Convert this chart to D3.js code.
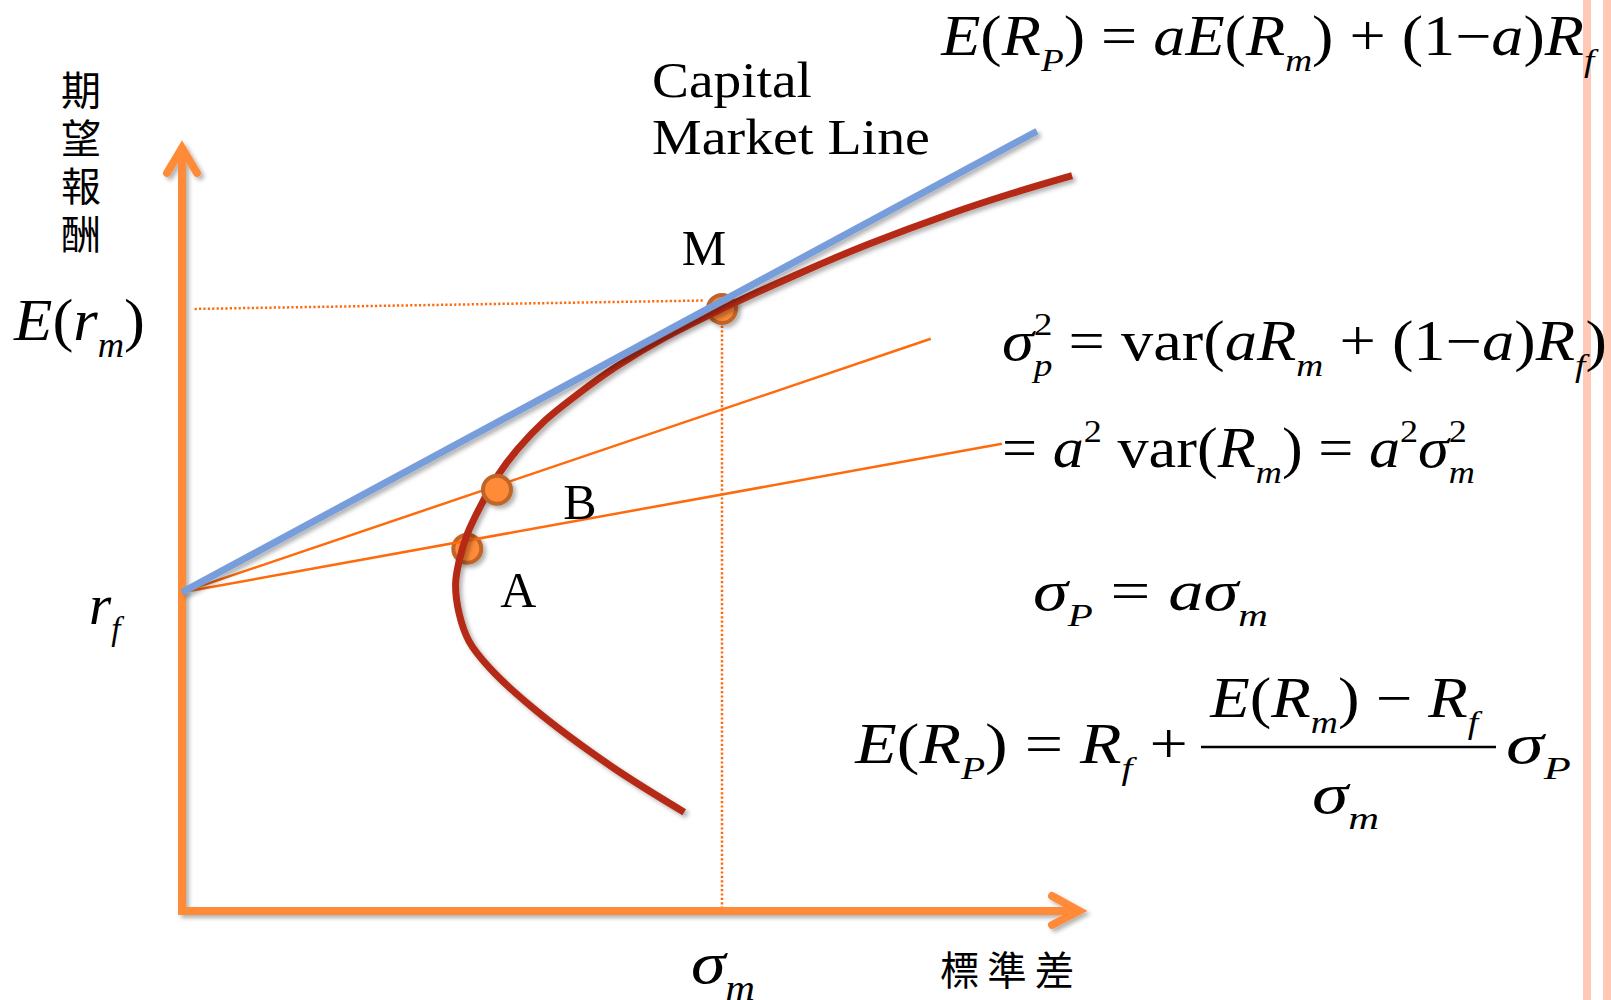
<!DOCTYPE html>
<html>
<head>
<meta charset="utf-8">
<script src="https://cdn.jsdelivr.net/npm/d3@7"></script>
<style>
  body { margin: 0; background: #fff; }
  svg { display: block; }
</style>
</head>
<body>
<div id="chart"></div>
<script>
// ---- data (sigma = standard deviation, ret = expected return) ----
const riskFree = 4.16
const marketSigma = 6.0
const marketReturn = 7.86

// efficient frontier, traced from bottom end to top end
const frontierSigma  = [5.58, 4.78, 3.93, 3.42, 3.19, 3.08, 3.04, 3.08, 3.17, 3.31, 3.50, 3.73, 4.03, 4.40, 4.83, 5.37, 6.00, 6.87, 7.64, 8.53, 9.20, 9.89]
const frontierReturn = [1.29, 1.88, 2.62, 3.17, 3.52, 3.88, 4.27, 4.57, 4.92, 5.27, 5.67, 6.03, 6.40, 6.75, 7.11, 7.49, 7.86, 8.33, 8.71, 9.10, 9.36, 9.60]

// capital market line end
const cmlEndSigma = 9.50
const cmlEndReturn = 10.18

// portfolios A, B and the lines from r_f through them
const portfolioNames = ["A", "B"]
const portfolioSigma = [3.17, 3.50]
const portfolioReturn = [4.73, 5.50]
const calEndSigma = [9.11, 8.32]
const calEndReturn = [6.10, 7.47]

// dotted guide from E(r_m) to M
const guideSigma = [0.14, 5.80]
const guideReturn = [7.86, 7.97]
const guideBottomReturn = [7.64, 0.05]

// texts
const yAxisTitle = "期望報酬"
const xAxisTitle = "標準差"
const marketLabel = "M"
const cmlLabel = ["Capital", "Market Line"]

// formula pieces: i = italic, r = roman, b = subscript, p = superscript, q = subscript under superscript
const labelErm = [["E", "i"], ["(", "r"], ["r", "i"], ["m", "b"], [")", "r"]]
const labelRf = [["r", "i"], ["f", "b"]]
const labelSigmaM = [["σ", "i"], ["m", "b"]]
const formula1 = [["E", "i"], ["(", "r"], ["R", "i"], ["P", "b"], [")", "r"], [" = ", "r"], ["aE", "i"], ["(", "r"], ["R", "i"], ["m", "b"], [")", "r"], [" + ", "r"], ["(1", "r"], ["−", "r"], ["a", "i"], [")", "r"], ["R", "i"], ["f", "b"]]
const formula2 = [["σ", "i"], ["2", "p"], ["p", "q"], [" = ", "r"], ["var(", "r"], ["aR", "i"], ["m", "b"], [" + ", "r"], ["(1", "r"], ["−", "r"], ["a", "i"], [")", "r"], ["R", "i"], ["f", "b"], [")", "r"]]
const formula3 = [["= ", "r"], ["a", "i"], ["2", "p"], [" var(", "r"], ["R", "i"], ["m", "b"], [")", "r"], [" = ", "r"], ["a", "i"], ["2", "p"], ["σ", "i"], ["2", "p"], ["m", "q"]]
const formula4 = [["σ", "i"], ["P", "b"], [" = ", "r"], ["aσ", "i"], ["m", "b"]]
const formula5Left = [["E", "i"], ["(", "r"], ["R", "i"], ["P", "b"], [")", "r"], [" = ", "r"], ["R", "i"], ["f", "b"], [" +", "r"]]
const formula5Num = [["E", "i"], ["(", "r"], ["R", "i"], ["m", "b"], [")", "r"], [" − ", "r"], ["R", "i"], ["f", "b"]]
const formula5Den = [["σ", "i"], ["m", "b"]]
const formula5Right = [["σ", "i"], ["P", "b"]]

// ---- drawing ----
const W = 1611, H = 1000
const serif = "'Liberation Serif', 'Times New Roman', serif"
const cjk = "'Noto Sans CJK TC', 'Noto Sans CJK SC', sans-serif"

const svg = d3.select("#chart").append("svg")
    .attr("width", W)
    .attr("height", H)

svg.append("rect").attr("width", W).attr("height", H).attr("fill", "#fff")

const shadow = svg.append("defs").append("filter")
    .attr("id", "shadow")
    .attr("filterUnits", "userSpaceOnUse")
    .attr("x", 0).attr("y", 0).attr("width", W).attr("height", H)
shadow.append("feDropShadow")
    .attr("dx", 3).attr("dy", 3).attr("stdDeviation", 2.2)
    .attr("flood-color", "#000").attr("flood-opacity", 0.3)

const xScale = d3.scaleLinear().domain([0, 10]).range([182, 1082])
const yScale = d3.scaleLinear().domain([0, 10]).range([911, 145])

const axisColor = "#FF8B38"
const thinOrange = "#FF6A0C"

// right side stripes of the slide
svg.append("rect").attr("x", 1583).attr("y", 0).attr("width", 8).attr("height", H).attr("fill", "#FFC9B6")
svg.append("rect").attr("x", 1603).attr("y", 0).attr("width", 8).attr("height", H).attr("fill", "#FFC9B6")

// dotted guides
svg.append("line")
    .attr("x1", xScale(guideSigma[0])).attr("y1", yScale(guideReturn[0]))
    .attr("x2", xScale(guideSigma[1])).attr("y2", yScale(guideReturn[1]))
    .attr("stroke", thinOrange).attr("stroke-width", 2.5).attr("stroke-dasharray", "2.2,2.2")
svg.append("line")
    .attr("x1", xScale(marketSigma)).attr("y1", yScale(guideBottomReturn[0]))
    .attr("x2", xScale(marketSigma)).attr("y2", yScale(guideBottomReturn[1]))
    .attr("stroke", thinOrange).attr("stroke-width", 2.5).attr("stroke-dasharray", "2.2,2.2")

// axes with arrow heads
const axes = svg.append("g")
    .attr("fill", "none")
    .attr("stroke", axisColor)
    .attr("stroke-width", 8)
    .attr("filter", "url(#shadow)")
const x0 = xScale(0), y0 = yScale(0), xTip = xScale(10), yTip = yScale(10)
axes.append("path")
    .attr("d", `M${x0},${yTip + 4}V${y0}H${xTip - 4}`)
    .attr("stroke-linejoin", "miter")
axes.append("path")
    .attr("d", `M${x0 - 15},${yTip + 28}L${x0},${yTip + 3}L${x0 + 15},${yTip + 28}`)
    .attr("stroke-linecap", "round").attr("stroke-linejoin", "miter")
axes.append("path")
    .attr("d", `M${xTip - 30},${y0 - 15}L${xTip - 3},${y0}L${xTip - 30},${y0 + 14}`)
    .attr("stroke-linecap", "round").attr("stroke-linejoin", "miter")

// points (A and M sit under the lines, B on top)
const pts = portfolioNames.map((n, i) => ({ name: n, s: portfolioSigma[i], r: portfolioReturn[i] }))
pts.push({ name: marketLabel, s: marketSigma, r: marketReturn })

function drawPoints(list) {
    svg.append("g").selectAll("circle")
        .data(list)
        .enter().append("circle")
        .attr("cx", d => xScale(d.s))
        .attr("cy", d => yScale(d.r))
        .attr("r", 14)
        .attr("fill", axisColor)
        .attr("stroke", "#C0652B")
        .attr("stroke-width", 4)
        .attr("filter", "url(#shadow)")
}
drawPoints(pts.filter(d => d.name !== "B"))

// capital allocation lines through A and B
svg.append("g").selectAll("line")
    .data(portfolioNames)
    .enter().append("line")
    .attr("x1", xScale(0)).attr("y1", yScale(riskFree))
    .attr("x2", (d, i) => xScale(calEndSigma[i]))
    .attr("y2", (d, i) => yScale(calEndReturn[i]))
    .attr("stroke", thinOrange).attr("stroke-width", 2.5)

// efficient frontier
const frontier = frontierSigma.map((s, i) => [s, frontierReturn[i]])
svg.append("path")
    .datum(frontier)
    .attr("d", d3.line().x(d => xScale(d[0])).y(d => yScale(d[1])).curve(d3.curveCatmullRom.alpha(0.5)))
    .attr("fill", "none")
    .attr("stroke", "#B52B15")
    .attr("stroke-width", 7)
    .attr("filter", "url(#shadow)")

// capital market line
svg.append("line")
    .attr("x1", xScale(0)).attr("y1", yScale(riskFree))
    .attr("x2", xScale(cmlEndSigma)).attr("y2", yScale(cmlEndReturn))
    .attr("stroke", "#789DDB").attr("stroke-width", 7)
    .attr("filter", "url(#shadow)")

drawPoints(pts.filter(d => d.name === "B"))

// point labels
const labelOffset = { "A": [51, 58], "B": [83, 29], "M": [-18, -44] }
svg.append("g").selectAll("text")
    .data(pts)
    .enter().append("text")
    .attr("x", d => xScale(d.s) + labelOffset[d.name][0])
    .attr("y", d => yScale(d.r) + labelOffset[d.name][1])
    .attr("text-anchor", "middle")
    .attr("font-family", serif)
    .attr("font-size", 50)
    .attr("fill", "#000")
    .text(d => d.name)

// fits a text horizontally into a given width
function fitText(t, x, y, width) {
    const bb = t.node().getBBox()
    const s = width / bb.width
    t.attr("transform", `translate(${x - bb.x * s},${y}) scale(${s},1)`)
}

// draws a formula made of segments
function drawMath(segs, x, y, size, width) {
    const t = svg.append("text")
        .attr("font-family", serif)
        .attr("font-size", size)
        .attr("fill", "#000")
    let cur = 0
    let lastW = 0
    segs.forEach(([str, kind]) => {
        const sp = t.append("tspan").text(str)
        let off = 0, fs = size, italic = kind !== "r" && kind !== "p"
        if (kind === "b" || kind === "q") { off = 0.28 * size; fs = 0.58 * size }
        if (kind === "p") { off = -0.45 * size; fs = 0.58 * size }
        sp.attr("font-size", fs)
            .attr("font-style", italic ? "italic" : "normal")
            .attr("dy", off - cur)
        if (kind === "q") sp.attr("dx", -lastW)
        cur = off
        lastW = sp.node().getComputedTextLength()
    })
    fitText(t, x, y, width)
    return t
}

// axis labels
svg.append("text")
    .attr("x", 81)
    .attr("y", 70)
    .attr("writing-mode", "vertical-rl")
    .attr("font-family", cjk)
    .attr("font-size", 40)
    .attr("letter-spacing", 8)
    .text(yAxisTitle)

const xt = svg.append("text")
    .attr("font-family", cjk)
    .attr("font-size", 40)
    .attr("dominant-baseline", "central")
    .attr("letter-spacing", 8)
    .text(xAxisTitle)
fitText(xt, 940, 967, 142)

drawMath(labelErm, 13, 340, 60, 132)
drawMath(labelRf, 89, 624, 58, 36)
drawMath(labelSigmaM, xScale(marketSigma) - 31, 983, 60, 64)

// capital market line label
cmlLabel.forEach((s, i) => {
    const t = svg.append("text")
        .attr("font-family", serif)
        .attr("font-size", 50)
        .attr("fill", "#000")
        .text(s)
    fitText(t, 652, 97 + i * 57, i === 0 ? 160 : 278)
})

// formulas
drawMath(formula1, 940, 55, 56, 659)
drawMath(formula2, 1002, 360, 56, 605)
drawMath(formula3, 1002, 467, 56, 473)
drawMath(formula4, 1033, 610, 56, 235)
drawMath(formula5Left, 854, 763, 56, 334)
drawMath(formula5Num, 1209, 717, 56, 274)
drawMath(formula5Den, 1312, 813, 56, 67)
drawMath(formula5Right, 1506, 763, 56, 65)
svg.append("line")
    .attr("x1", 1201).attr("x2", 1496)
    .attr("y1", 747).attr("y2", 747)
    .attr("stroke", "#000").attr("stroke-width", 2.5)
</script>
</body>
</html>
